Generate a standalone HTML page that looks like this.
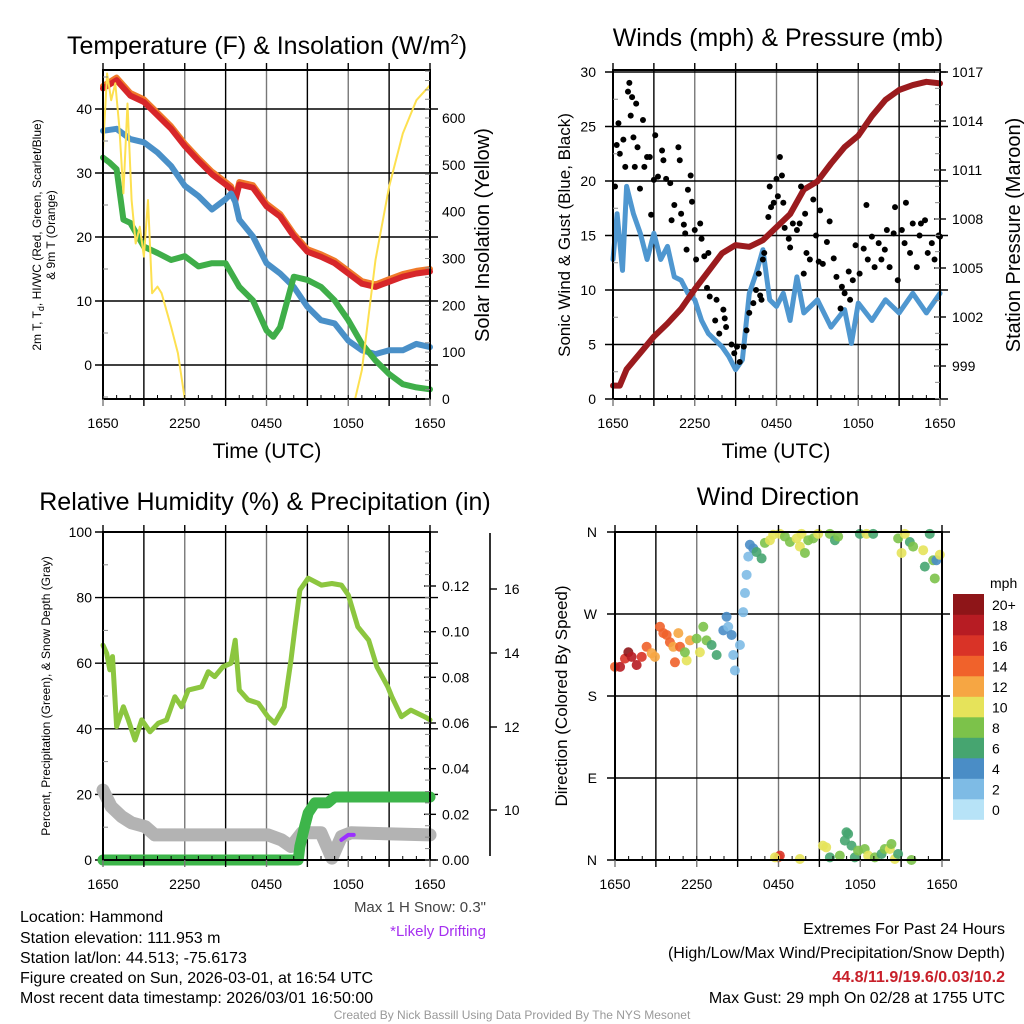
<!DOCTYPE html>
<html><head><meta charset="utf-8">
<style>
html,body{margin:0;padding:0;background:#fff;}
svg{display:block;}
text{font-family:"Liberation Sans",sans-serif;fill:#000;}
.n{font-family:"Liberation Sans Narrow","Liberation Sans",sans-serif;}
</style></head>
<body>
<svg id="chart" width="1024" height="1024" viewBox="0 0 1024 1024" xmlns="http://www.w3.org/2000/svg">
<g id="grid"></g>
<g id="marks"></g>
<g id="axes"></g>
<g id="labels">
<text x="267" y="54" font-size="25" text-anchor="middle">Temperature (F) &amp; Insolation (W/m<tspan font-size="15" dy="-10">2</tspan><tspan dy="10">)</tspan></text>
<text x="778" y="46" font-size="25" text-anchor="middle">Winds (mph) &amp; Pressure (mb)</text>
<text x="265" y="510" font-size="25" text-anchor="middle">Relative Humidity (%) &amp; Precipitation (in)</text>
<text x="778" y="505" font-size="25" text-anchor="middle">Wind Direction</text>
<text x="267" y="458" font-size="21" text-anchor="middle">Time (UTC)</text>
<text x="776" y="458" font-size="21" text-anchor="middle">Time (UTC)</text>
<text transform="translate(41,235) rotate(-90)" font-size="12" text-anchor="middle" class="n">2m T, T<tspan font-size="9" dy="3">d</tspan><tspan dy="-3">, HI/WC (Red, Green, Scarlet/Blue)</tspan></text>
<text transform="translate(55,235) rotate(-90)" font-size="12" text-anchor="middle" class="n">&amp; 9m T (Orange)</text>
<text transform="translate(489,235) rotate(-90)" font-size="20" text-anchor="middle">Solar Insolation (Yellow)</text>
<text transform="translate(570,235) rotate(-90)" font-size="17" text-anchor="middle">Sonic Wind &amp; Gust (Blue, Black)</text>
<text transform="translate(1020,235) rotate(-90)" font-size="20" text-anchor="middle">Station Pressure (Maroon)</text>
<text transform="translate(50,696) rotate(-90)" font-size="12" text-anchor="middle" class="n">Percent, Precipitation (Green), &amp; Snow Depth (Gray)</text>
<text transform="translate(567,696) rotate(-90)" font-size="17" text-anchor="middle">Direction (Colored By Speed)</text>
<text x="486" y="912" font-size="15" text-anchor="end" class="n" style="fill:#444">Max 1 H Snow: 0.3"</text>
<text x="486" y="936" font-size="15" text-anchor="end" class="n" style="fill:#a530f0">*Likely Drifting</text>
<g font-size="16" class="n">
<text class="n" x="20" y="922">Location: Hammond</text>
<text class="n" x="20" y="943">Station elevation: 111.953 m</text>
<text class="n" x="20" y="963">Station lat/lon: 44.513; -75.6173</text>
<text class="n" x="20" y="983">Figure created on Sun, 2026-03-01, at 16:54 UTC</text>
<text class="n" x="20" y="1003">Most recent data timestamp: 2026/03/01 16:50:00</text>
</g>
<g font-size="16" text-anchor="end">
<text class="n" x="1005" y="934">Extremes For Past 24 Hours</text>
<text class="n" x="1005" y="958">(High/Low/Max Wind/Precipitation/Snow Depth)</text>
<text class="n" x="1005" y="982" font-weight="bold" style="fill:#c8202a">44.8/11.9/19.6/0.03/10.2</text>
<text class="n" x="1005" y="1003">Max Gust: 29 mph On 02/28 at 1755 UTC</text>
</g>
<text x="512" y="1019" font-size="12" text-anchor="middle" class="n" style="fill:#999">Created By Nick Bassill Using Data Provided By The NYS Mesonet</text>
<text x="990" y="588" font-size="14" class="n">mph</text>
</g>
</svg>
<script>
// ---------- data ----------
const xTickLabels = ["1650","2250","0450","1050","1650"];
const hours = [0,1,2,3,4,5,6,7,8,9,9.4,9.7,10,11,12,13,14,15,16,17,18,19,20,21,22,23,24];
const tempT = [43.2,44.5,42.1,41.1,39,36.9,34.2,31.9,29.8,28.2,27.5,25.6,28.2,27.7,24.8,23.2,20.1,17.7,16.9,15.9,14.3,12.7,12.2,13,13.8,14.3,14.6];
const tempWC = [36.6,36.9,35.3,34.8,33.2,31.1,28,26.4,24.3,25.9,26.8,25.5,22.7,20.1,15.9,14.3,12.2,9.1,7,6.5,3.8,2.3,1.7,2.3,2.3,3.3,2.8];
const dewHours = [0,0.5,1,1.5,2,3,4,5,6,7,8,9,10,11,12,12.5,13,14,15,16,17,18,19,20,21,22,23,24];
const tempTd = [32.4,31.6,30.6,22.7,22.2,18.5,17.5,16.4,17,15.4,15.9,15.9,12.2,10.1,5.4,4.4,5.9,13.8,13.3,12.2,10.1,7,3.3,0.7,-1.4,-3,-3.5,-3.8];
const solHours = [0,0.3,0.6,0.9,1.2,1.5,1.8,2.1,2.4,2.7,3,3.3,3.6,4,4.3,5,5.5,6,18.5,19,20,21,22,23,24];
const solar = [532,695,638,674,581,439,631,425,332,368,304,425,226,240,226,154,98,0,0,62,297,453,567,638,670];
const tempTicks = [0,10,20,30,40];
const solTicks = [0,100,200,300,400,500,600];
const presHours = [0,0.5,1,2,3,4,5,6,7,8,9,10,11,12,13,14,15,16,17,18,19,20,21,22,23,24];
const pressure = [997.8,997.8,998.8,999.8,1000.8,1001.6,1002.5,1003.7,1004.8,1005.9,1006.4,1006.3,1006.7,1007.5,1008.3,1009.8,1010.3,1011.4,1012.4,1013.1,1014.3,1015.3,1015.9,1016.2,1016.4,1016.3];
const windHours = [0,0.3,0.7,1,1.5,2,2.5,3,3.5,4,4.5,5,5.5,6,6.5,7,8,8.5,9,9.5,10,10.5,11,11.5,12,12.5,13,13.5,14,15,16,17,17.5,18,19,20,21,22,23,24];
const wind = [12.8,17,11.8,19.5,17,15.2,12.8,15.2,12.8,14,11.2,10.9,9.7,9.1,7.2,6,4.8,3.9,2.7,3.6,9.7,11.5,13.7,9.1,8.5,9.7,7.2,11.2,7.9,9.1,6.6,8.2,5.1,8.8,7.2,9.1,7.9,9.7,7.9,9.7];
const gustHours = [0.15,0.27,0.4,0.5,0.76,0.9,1.1,1.2,1.3,1.4,1.5,1.6,1.7,1.8,1.98,2.2,2.3,2.5,2.7,2.8,3,3.1,3.3,3.6,3.7,3.9,4.2,4.3,4.5,4.8,4.9,5,5.2,5.3,5.4,5.5,5.7,5.8,6,6.1,6.4,6.5,6.7,6.9,7,7.1,7.5,7.6,7.8,8.1,8.2,8.3,8.7,8.9,9.1,9.3,9.6,9.8,10,10.3,10.5,10.7,10.8,10.9,11,11.1,11.4,11.5,11.6,11.8,12,12.1,12.25,12.4,12.5,12.6,12.9,13,13.2,13.5,13.7,13.8,14,14.1,14.2,14.45,14.7,14.9,15.1,15.2,15.4,15.7,15.9,16.2,16.4,16.7,16.8,17,17.3,17.4,17.6,17.8,18.1,18.4,18.6,18.7,19,19.2,19.5,19.7,19.95,20.1,20.3,20.6,20.7,20.9,21.2,21.4,21.5,21.8,22,22.3,22.5,22.6,22.9,23.1,23.4,23.6,23.9,24];
const gust = [19.5,23.3,25.3,22.5,23.8,21.3,28.2,29,26,27.7,24,21.3,27.1,23.1,19.3,25.6,21.3,22.2,22.2,16.9,20.1,24.2,20.4,22.8,21.9,20.2,19.8,16.4,17.8,23.1,21.9,17,16,15.2,13.7,19.2,20.5,18.1,15.5,12.8,16.1,14.7,13.1,10.2,13.4,9.4,7.2,9.1,6,8.2,7.4,6.6,5,4.2,4.8,3.4,4.8,6.3,7.9,8.8,10,11.5,9.5,9.1,12.8,13.4,16.7,19.5,17.6,18,20.2,18.6,22.2,20.5,18,15.7,14.7,13.9,16.1,15.5,16.1,19.5,11.5,17,13.4,12.8,18.3,15,12.6,17.3,12.4,14.4,16.3,12.9,11.2,8.3,10.3,9.7,11.7,9.1,10.9,14.1,11.5,13.8,17.8,12.8,14.9,12.1,14.3,12.8,13.7,15.5,12.1,15.2,17.6,10.9,15.5,14.3,18,13.4,16.1,12.1,15,16.1,16.4,13.4,14.3,12.8,15,14.9];
const windTicks = [0,5,10,15,20,25,30];
const presTicks = [999,1002,1005,1008,1011,1014,1017];
const rhHours = [0,0.27,0.5,0.7,1,1.5,1.86,2.35,2.84,3.45,4.06,4.67,5.28,5.77,6.26,7.24,7.73,8.2,8.8,9.4,9.7,10,10.65,11.4,12.1,12.6,13.3,13.8,14.1,14.45,15.06,16.04,16.8,17.5,18,18.7,19.5,20.1,20.9,21.2,21.9,22.6,23.6,24];
const rh = [65.5,63,58,62,40.7,46.7,42.7,36.6,42.7,39.1,41.7,42.7,49.8,46.7,51.8,52.8,57.4,55.9,58.9,60,67,51.8,48.8,47.8,43.7,41.7,46.7,61,71.1,82.3,85.9,83.8,84.3,83.8,80.8,71.1,67,58.9,52.8,49.8,43.7,45.7,43.7,42.7];
const precipHours = [0,14.33,14.45,14.8,15.06,15.55,16.5,17,24];
const precip = [0,0,0.006,0.0146,0.0206,0.025,0.025,0.0276,0.0276];
const snowHours = [0,0.6,1.37,2.1,3.1,3.8,12.1,13.1,13.8,14.6,16,16.8,17.5,18.2,24];
const snow = [10.48,10.08,9.84,9.69,9.6,9.4,9.4,9.28,9.12,9.45,9.45,8.84,9.36,9.45,9.4];
const driftHours = [17.5,18,18.4];
const drift = [9.28,9.4,9.4];
const rhTicks = [0,20,40,60,80,100];
const precipTicks = [0.00,0.02,0.04,0.06,0.08,0.10,0.12];
const snowTicks = [10,12,14,16];
const dirHours = [0,0.37,0.73,0.98,1.22,1.59,1.96,2.32,2.69,2.93,3.3,3.55,3.79,4.03,4.28,4.65,4.77,4.4,5.26,5.13,5.5,5.99,6.23,6.48,6.72,7.09,7.46,7.95,8.19,8.31,8.56,8.68,8.8,9.17,9.41,9.54,9.66,9.78,9.9,10.15,10.39,10.76,11,11.37,11.61,12.1,12.47,12.84,13.33,13.57,13.69,13.94,14.18,14.55,14.91,15.77,16.14,16.38,17.97,18.46,18.95,20.78,21.03,21.27,21.64,21.88,22.62,23.1,23.35,23.59,23.84,23.47,22.74,
 11.98,12.1,11.74,13.57,15.26,15.5,15.77,16.5,16.87,16.99,17.11,17.36,17.6,17.84,18.33,18.58,19.07,19.56,19.8,20.17,20.29,20.54,20.78,21.76];
const direction = [212,212,221,228,223,214,223,234,227,223,256,249,247,239,234,249,234,217,219,228,241,243,228,256,241,236,225,252,267,256,247,225,208,236,272,293,313,333,346,342,338,331,348,351,357,358,355,349,353,344,358,337,351,353,358,358,351,355,358,358,358,353,337,358,349,344,340,358,329,329,335,309,322,
 2.9,4.8,2.9,1.1,15.8,13.9,2.9,4.8,21.3,30.4,28.6,15.8,2.9,10.3,12.1,4.8,2.9,6.6,12.1,12.1,17.6,1.1,6.6,0];
const speed = [14,18,16,20,18,18,16,14,12,12,14,14,14,14,12,12,14,14,10,8,12,8,10,8,8,6,6,4,4,2,4,2,2,2,2,2,2,2,4,4,6,6,8,10,10,10,8,8,10,10,10,8,8,8,10,8,6,8,6,10,6,8,10,10,6,8,10,6,8,4,10,8,6,
 14,16,10,10,10,10,6,8,6,6,6,6,6,8,8,10,8,6,8,10,8,10,6,8];
const speedBins = ["0","2","4","6","8","10","12","14","16","18","20+"];
const binColors = ["#b7e3f7","#7ebbe5","#4a8dc6","#46a570","#7cc24a","#e6e35a","#f6a643","#f0622b","#d93327","#b71c23","#8e1518"];
const dirTicks = [0,90,180,270,360];
const dirLabels = ["N","E","S","W","N"];

// ---------- helpers ----------
const NS = "http://www.w3.org/2000/svg";
const gGrid = document.getElementById('grid'), gMarks = document.getElementById('marks'), gAxes = document.getElementById('axes');
function mk(tag, attrs, parent){const e=document.createElementNS(NS,tag);for(const k in attrs)e.setAttribute(k,attrs[k]);parent.appendChild(e);return e;}
function txt(s, attrs, parent){const e=mk('text',attrs,parent);e.textContent=s;return e;}
function lin(d0,d1,r0,r1){return v=>r0+(v-d0)*(r1-r0)/(d1-d0);}
function poly(dom,rng){return v=>{let i=0;while(i<dom.length-2&&v>dom[i+1])i++;return rng[i]+(v-dom[i])*(rng[i+1]-rng[i])/(dom[i+1]-dom[i]);};}
function pathD(xs,ys,sx,sy){return xs.map((h,i)=>(i?'L':'M')+sx(h).toFixed(1)+','+sy(ys[i]).toFixed(1)).join('');}
function frame(x0,x1,y0,y1,name,yTicksVals,sy,yMinor){
  const g=mk('g',{},gAxes);
  
  
  for(let k=1;k<8;k++){const x=x0+k*(x1-x0)/8;
    const l=mk('line',{x1:x,x2:x,y1:y0,y2:y1,stroke:k%2?'#000':'#777','stroke-width':1.4},gGrid);
    
    }
  yTicksVals.forEach(v=>{const y=sy(v);
    const l=mk('line',{x1:x0-8,x2:x1+8,y1:y,y2:y,stroke:'#000','stroke-width':1.4},gGrid);
    
    });
  mk('rect',{x:x0,y:y0,width:x1-x0,height:y1-y0,fill:'none',stroke:'#000','stroke-width':2},g);
  for(let k=0;k<=8;k++){const x=x0+k*(x1-x0)/8;mk('line',{x1:x,x2:x,y1:y1,y2:y1+7,stroke:k%2?'#000':'#777','stroke-width':1.4},g);mk('line',{x1:x,x2:x,y1:y0,y2:y0-7,stroke:'#000','stroke-width':1.4},g);}
  for(let k=0;k<=24;k++){const x=x0+k*(x1-x0)/24;mk('line',{x1:x,x2:x,y1:y1,y2:y1-4,stroke:'#000','stroke-width':1},g);}
  if(yMinor){yMinor.forEach(v=>{const y=sy(v);mk('line',{x1:x0,x2:x0+5,y1:y,y2:y,stroke:'#888','stroke-width':1},g);});}
  xTickLabels.forEach((s,i)=>{const t=txt(s,{x:x0+i*(x1-x0)/4,y:y1+29,'font-size':14,'text-anchor':'middle',class:'n'},g);
    
    });
  return g;
}
function yLabels(g,vals,sy,x,anchor,fmt){vals.forEach(v=>{const t=txt(fmt?fmt(v):String(v),{x:x,y:sy(v)+5,'font-size':14,'text-anchor':anchor,class:'n'},g);
  
  });}
function rightTicks(g,x,vals,sy,len,minorStep,lo,hi){vals.forEach(v=>mk('line',{x1:x-len,x2:x+len,y1:sy(v),y2:sy(v),stroke:'#000','stroke-width':1.4},g));
  if(minorStep){for(let v=lo;v<=hi+1e-9;v+=minorStep)mk('line',{x1:x-5,x2:x,y1:sy(v),y2:sy(v),stroke:'#888','stroke-width':1},g);}}
function line(xs,ys,sx,sy,color,w,name){const p=mk('path',{d:pathD(xs,ys,sx,sy),fill:'none',stroke:color,'stroke-width':w,'stroke-linejoin':'round','stroke-linecap':'round'},gMarks);
  
  return p;}

// ---------- panel 1 ----------
const X1=lin(0,24,103,430), yT=lin(0,10,365,301), yI=lin(0,600,399,118);
let g1=frame(103,430,70,399,'temperature',tempTicks,yT,[-5,5,15,25,35,45]);
yLabels(g1,tempTicks,yT,92,'end');
yLabels(g1,solTicks,yI,442,'start');
rightTicks(g1,430,solTicks,yI,0,20,0,700);
line(hours,tempT.map(v=>v+0.4),X1,yT,'#f07a2a',6,'nine-meter-temp-line');
line(hours,tempT,X1,yT,'#d7262a',6,'temperature-line');
line(hours,tempWC,X1,yT,'#4a90c8',6,'wind-chill-line');
line(dewHours,tempTd,X1,yT,'#3fae49',6,'dewpoint-line');
line(solHours,solar,X1,yI,'#fde050',2,'solar-insolation-line');

// ---------- panel 2 ----------
const X2=lin(0,24,613,940), yW=lin(0,30,399,72), yP=lin(999,1017,366,72);
let g2=frame(613,940,70,399,'winds',windTicks,yW,[2.5,7.5,12.5,17.5,22.5,27.5]);
yLabels(g2,windTicks,yW,596,'end');
yLabels(g2,presTicks,yP,952,'start');
rightTicks(g2,940,presTicks,yP,6,1,997,1017);
line(windHours,wind,X2,yW,'#4f97d0',5,'sonic-wind-line');
line(presHours,pressure,X2,yP,'#9b1b1e',6,'pressure-line');
gustHours.forEach((h,i)=>{const c=mk('circle',{cx:X2(h),cy:yW(gust[i]),r:3,fill:'#000'},gMarks);
  
  });

// ---------- panel 3 ----------
const yRH=lin(0,100,860,532), yPr=lin(0,0.12,860,586), ySn=poly([8,10,12,14,16],[893,810,727,653,589]);
let g3=frame(103,430,532,860,'humidity',rhTicks,yRH,[10,30,50,70,90]);
yLabels(g3,rhTicks,yRH,92,'end');
yLabels(g3,precipTicks,yPr,442,'start',v=>v.toFixed(2));
rightTicks(g3,430,precipTicks,yPr,6,0.005,0,0.135);
mk('line',{x1:490,x2:490,y1:533,y2:856,stroke:'#000','stroke-width':1.6},g3);
snowTicks.forEach(v=>mk('line',{x1:490,x2:497,y1:ySn(v),y2:ySn(v),stroke:'#000','stroke-width':1.4},g3));
yLabels(g3,snowTicks,ySn,504,'start');
line(snowHours,snow,X1,ySn,'#b3b3b3',13,'snow-depth-line');
line(precipHours,precip,X1,yPr,'#3db54a',11,'precipitation-line');
line(rhHours,rh,X1,yRH,'#8cc63f',5,'relative-humidity-line');
line(driftHours,drift,X1,ySn,'#9b30ff',4,'drifting-snow-line');

// ---------- panel 4 ----------
const X4=lin(0,24,615,942), yD=lin(0,360,860,532);
let g4=frame(615,942,532,860,'wind-direction',dirTicks,yD,null);
dirTicks.forEach((v,i)=>{const t=txt(dirLabels[i],{x:597,y:yD(v)+5,'font-size':14,'text-anchor':'end',class:'n'},g4);
  
  });
dirHours.forEach((h,i)=>{const b=Math.min(10,Math.floor(speed[i]/2));
  const c=mk('circle',{cx:X4(h),cy:yD(direction[i]),r:5,fill:binColors[b],'fill-opacity':0.9},gMarks);
  
  });
const cb=mk('g',{},gAxes);


speedBins.forEach((s,i)=>{const k=10-i;const y=594+k*20.5;
  const r=mk('rect',{x:953,y:y,width:31,height:20.8,fill:binColors[i]},cb);
  
  
  const t=txt(s,{x:992,y:y+16,'font-size':14,class:'n'},cb);
  
  });
</script>
</body></html>
